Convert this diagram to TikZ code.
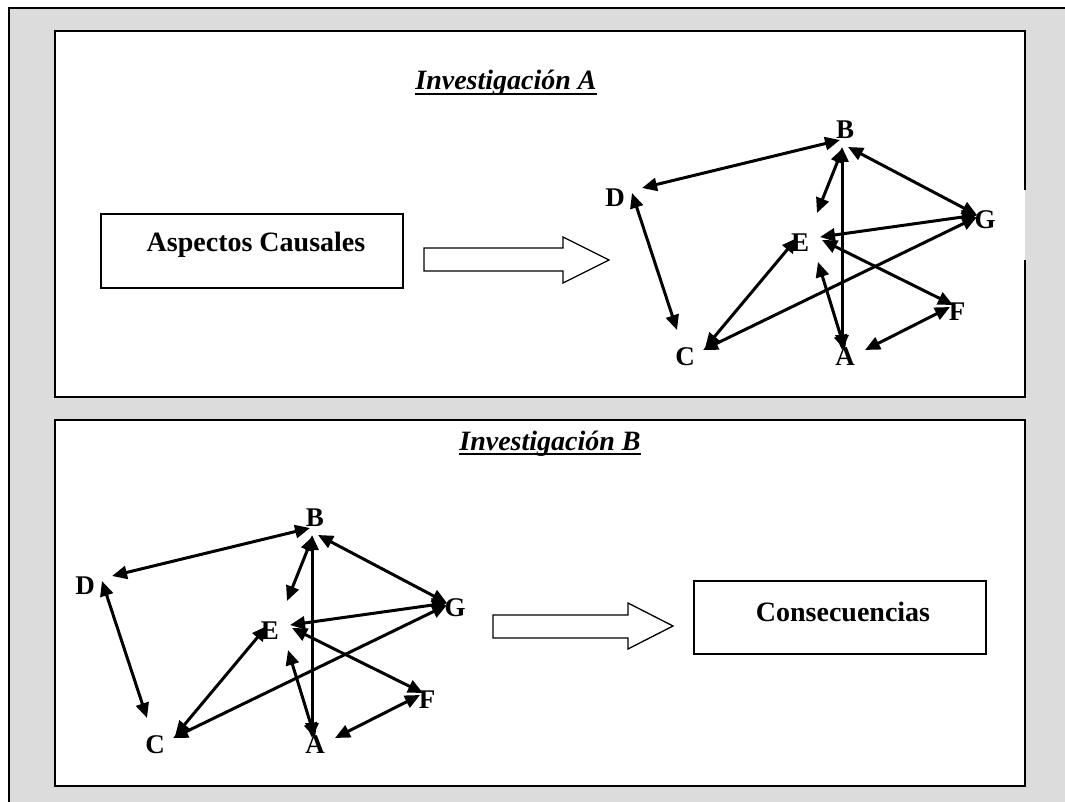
\documentclass[tikz,border=0pt]{standalone}
\usepackage{fontspec}
\setmainfont{Liberation Serif}
\usetikzlibrary{arrows.meta,calc}
\definecolor{bggray}{HTML}{DCDCDC}
\tikzset{
  lbl/.style={font=\fontsize{27}{30}\selectfont\bfseries, inner sep=0pt},
  conn/.style={line width=3pt, {Triangle[length=15pt,width=13pt]}-{Triangle[length=15pt,width=13pt]}},
  panel/.style={line width=1.6pt, draw=black},
  bigbox/.style={draw=black, line width=1.8pt, fill=white},
  boxtext/.style={font=\fontsize{28}{32}\selectfont\bfseries, inner sep=0pt},
  title/.style={font=\fontsize{28}{32}\selectfont\bfseries\itshape, inner sep=0pt, anchor=base},
  uline/.style={line width=2pt},
  fatarrow/.style={draw=black, line width=1.3pt, fill=white}
}
\newcommand{\causalgraph}{%
  \node[lbl] (B) at (845,130) {B};
  \node[lbl] (D) at (615,198) {D};
  \node[lbl] (G) at (985,220) {G};
  \node[lbl] (E) at (800,243) {E};
  \node[lbl] (F) at (957,312) {F};
  \node[lbl] (C) at (685,357) {C};
  \node[lbl] (A) at (845,357) {A};
  \draw[conn] ($(D)+(27,-10)$) -- ($(B)+(-5,10)$);
  \draw[conn] ($(D)+(17,-5)$) -- ($(C)+(-8,-27)$);
  \draw[conn] ($(B)+(-3,17)$) -- ($(A)+(-3,-7)$);
  \draw[conn] ($(B)+(-2,18)$) -- ($(E)+(17,-30)$);
  \draw[conn] ($(B)+(3,17)$) -- ($(G)+(-8,-5)$);
  \draw[conn] ($(G)+(-8,-5)$) -- ($(E)+(20,-6)$);
  \draw[conn] ($(G)+(-8,-3)$) -- ($(C)+(18,-7)$);
  \draw[conn] ($(C)+(20,-9)$) -- ($(E)+(-3,-5)$);
  \draw[conn] ($(E)+(22,-3)$) -- ($(F)+(-4,-7)$);
  \draw[conn] ($(E)+(18,19)$) -- ($(A)+(0,-7)$);
  \draw[conn] ($(F)+(-7,-5)$) -- ($(A)+(20,-7)$);
}
\begin{document}
\begin{tikzpicture}[x=1pt,y=-1pt]
\useasboundingbox (0,0) rectangle (1065,802);
% outer gray frame
\fill[bggray] (9,8) rectangle (1065,802);
\draw[line width=1.4pt] (9,802) -- (9,8) -- (1065,8);
% panel A
\fill[white] (55,31) rectangle (1025,397);
\draw[panel] (1025,260) -- (1025,397) -- (55,397) -- (55,31) -- (1025,31) -- (1025,190);
% panel B
\fill[white] (55,420) rectangle (1025,786);
\draw[panel] (55,420) rectangle (1025,786);
% titles
\node[title] (tA) at (506,90) {Investigación A};
\draw[uline] ($(tA.base west)+(0,4)$) -- ($(tA.base east)+(0,4)$);
\node[title] (tB) at (550,450) {Investigación B};
\draw[uline] ($(tB.base west)+(0,4)$) -- ($(tB.base east)+(0,4)$);
% Panel A content
\node[bigbox, minimum width=302pt, minimum height=74pt] (asp) at (252,251) {};
\node[boxtext] (asptext) at (256,245) {Aspectos Causales};
\draw[fatarrow] (424,248) -- (563,248) -- (563,237) -- (609,260) -- (563,283) -- (563,271) -- (424,271) -- cycle;
\begin{scope}
  \causalgraph
\end{scope}
% Panel B content
\begin{scope}[shift={(-530,388)}]
  \causalgraph
\end{scope}
\draw[fatarrow] (493,615) -- (628,615) -- (628,603) -- (673,626) -- (628,649) -- (628,638) -- (493,638) -- cycle;
\node[bigbox, minimum width=292pt, minimum height=73pt] (cons) at (840,617.5) {};
\node[boxtext] (constext) at (843,612) {Consecuencias};
\end{tikzpicture}
\end{document}
